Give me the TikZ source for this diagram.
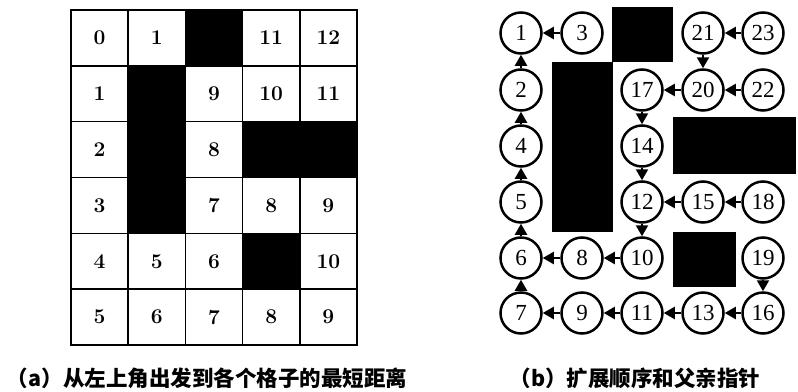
\documentclass[tikz,border=0pt]{standalone}
\usepackage{fontspec}
\newfontfamily\cjk{Noto Sans CJK SC}
\newfontfamily\numfont{Liberation Serif}
\usetikzlibrary{arrows.meta}
\begin{document}
\begin{tikzpicture}[x=1pt,y=-1pt,
  cell/.style={draw, line width=1.5pt, minimum width=57.2pt, minimum height=55.83pt, inner sep=0pt, font=\fontsize{21}{21}\selectfont\bfseries},
  wallcell/.style={cell, fill=black},
  st/.style={circle, draw, line width=2.5pt, minimum size=41pt, inner sep=0pt, font=\numfont\fontsize{23}{23}\selectfont},
  parent/.style={line width=2.2pt, -{Triangle[length=11pt,width=12pt]}},
  captext/.style={font=\cjk\bfseries\fontsize{21.5}{21.5}\selectfont, inner sep=0pt}]
\path[use as bounding box] (0,0) rectangle (798,391);
% (a) grid
\foreach \r/\c/\v in {0/0/0,0/1/1,0/3/11,0/4/12,
  1/0/1,1/2/9,1/3/10,1/4/11,
  2/0/2,2/2/8,
  3/0/3,3/2/7,3/3/8,3/4/9,
  4/0/4,4/1/5,4/2/6,4/4/10,
  5/0/5,5/1/6,5/2/7,5/3/8,5/4/9}
  \node[cell] (g\r\c) at ({71+57.2*(\c+0.5)},{10+55.83*(\r+0.5)}) {\v};
\foreach \r/\c in {0/2,1/1,2/1,3/1,2/3,2/4,4/3}
  \node[wallcell] (g\r\c) at ({71+57.2*(\c+0.5)},{10+55.83*(\r+0.5)}) {};
% (b) blocks
\fill (612,7) rectangle (673,62);
\fill (552,62) rectangle (613,232);
\fill (673,117) rectangle (796,174);
\fill (673,232) rectangle (736,287);
% (b) nodes
\foreach \n/\x/\y in {1/521/33,3/582/33,21/703/33,23/763/33,
  2/521/90,17/642/90,20/703/90,22/763/90,
  4/521/146,14/642/146,
  5/521/202,12/642/202,15/703/202,18/763/202,
  6/521/258,8/582/258,10/642/258,19/763/258,
  7/521/313,9/582/313,11/642/313,13/703/313,16/763/313}
  \node[st] (n\n) at (\x,\y) {\n};
\foreach \a/\b in {3/1,2/1,4/2,5/4,6/5,7/6,8/6,10/8,9/7,11/9,13/11,16/13,19/16,
  12/10,14/12,17/14,20/17,21/20,22/20,23/21,15/12,18/15}
  \draw[parent] (n\a) -- (n\b);
% captions
\node[captext] (capa) at (207,378) {（a）从左上角出发到各个格子的最短距离};
\node[captext] (capb) at (635,378) {（b）扩展顺序和父亲指针};
\end{tikzpicture}
\end{document}
